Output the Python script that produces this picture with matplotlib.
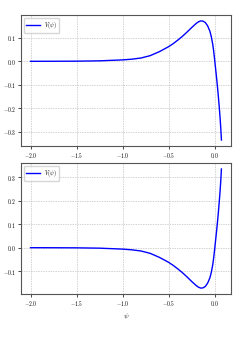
import matplotlib
matplotlib.use("Agg")
import matplotlib.pyplot as plt

plt.rcParams['mathtext.fontset'] = 'cm'
plt.rcParams['font.family'] = ['cmr10', 'DejaVu Serif']
plt.rcParams['axes.formatter.use_mathtext'] = True

psi = [-2.0, -1.75, -1.5, -1.25, -1.0, -0.9, -0.8, -0.7, -0.6, -0.5, -0.45, -0.4,
       -0.35, -0.3, -0.25, -0.2, -0.175, -0.15, -0.125, -0.1, -0.075, -0.05,
       -0.035, -0.02, -0.01, 0.0, 0.01, 0.02, 0.03, 0.04, 0.05, 0.06, 0.068, 0.075]
V_top = [0.0, 0.0002, 0.0006, 0.002, 0.006, 0.009, 0.014, 0.024, 0.041, 0.062, 0.075, 0.09,
         0.106, 0.124, 0.143, 0.161, 0.168, 0.172, 0.171, 0.165, 0.151, 0.128,
         0.105, 0.074, 0.046, 0.012, -0.025, -0.062, -0.10, -0.142, -0.188, -0.238, -0.285, -0.335]
V_bot = [-0.0, -0.0002, -0.0006, -0.002, -0.006, -0.009, -0.014, -0.024, -0.041, -0.062, -0.075, -0.09,
         -0.106, -0.124, -0.143, -0.161, -0.168, -0.172, -0.171, -0.165, -0.151, -0.128,
         -0.105, -0.074, -0.046, -0.012, 0.025, 0.062, 0.10, 0.142, 0.188, 0.238, 0.285, 0.335]
xticks = [-2.0, -1.5, -1.0, -0.5, 0.0]
label = r'$V(\psi)$'

fig = plt.figure(figsize=(2.45, 3.56), dpi=100)
ax1 = fig.add_axes([0.0857, 0.590, 0.857, 0.368])
ax2 = fig.add_axes([0.0857, 0.174, 0.857, 0.368])

for ax, v in ((ax1, V_top), (ax2, V_bot)):
    ax.plot(psi, v, color='blue', lw=1.0, label=label)
    ax.set_xticks(xticks)
    ax.grid(True, linestyle='--', dashes=(2, 1.5), color='#c0c0c0', lw=0.5)
    ax.tick_params(labelsize=4, length=2, width=0.5, pad=1.5)
    for s in ax.spines.values():
        s.set_color('#555555')
        s.set_linewidth(0.8)
    ax.legend(loc='upper left', fontsize=4, handlelength=2.5, borderpad=0.4,
              framealpha=0.8, edgecolor='#cccccc', fancybox=True)

ax1.set_yticks([-0.3, -0.2, -0.1, 0.0, 0.1])
ax2.set_yticks([-0.1, 0.0, 0.1, 0.2, 0.3])
ax2.set_xlabel(r'$\psi$', fontsize=5, labelpad=2)

fig.savefig('out.png', dpi=100)
